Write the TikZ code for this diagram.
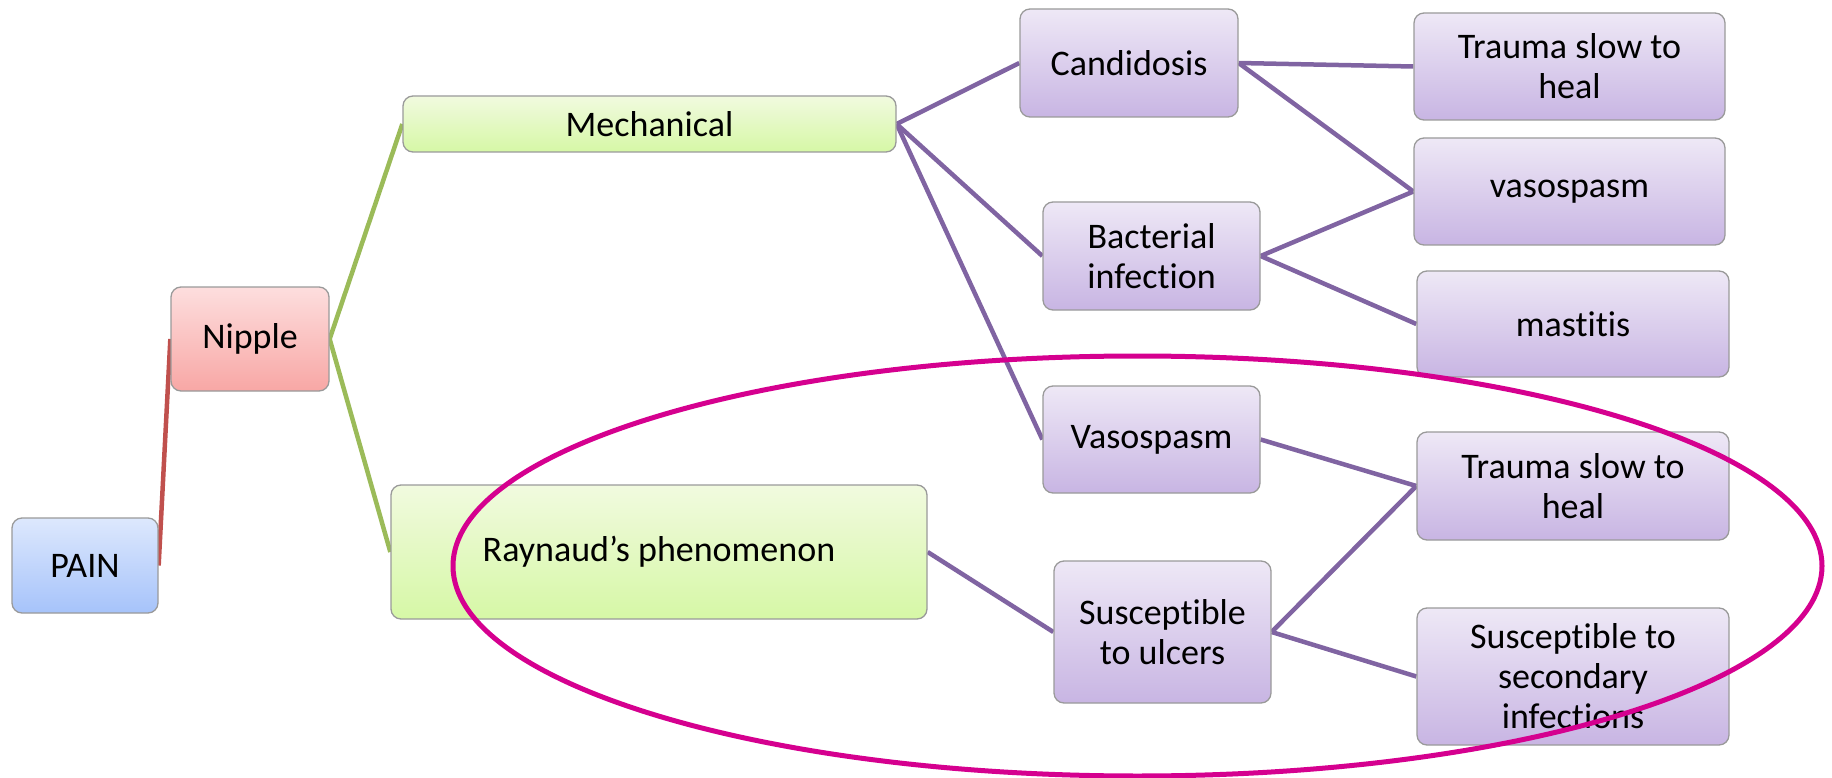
\documentclass[tikz,border=0pt]{standalone}
\usepackage{fontspec}
\setmainfont{Carlito}[Ligatures=NoCommon]
\usetikzlibrary{backgrounds,shapes.geometric}

\definecolor{blueTop}{HTML}{DDE8FD}
\definecolor{blueBot}{HTML}{A6C3FA}
\definecolor{redTop}{HTML}{FDDEDE}
\definecolor{redBot}{HTML}{F8A7A5}
\definecolor{greenTop}{HTML}{F1FADF}
\definecolor{greenBot}{HTML}{D6F8A6}
\definecolor{purpTop}{HTML}{EEE8F6}
\definecolor{purpBot}{HTML}{C8B5E3}
\definecolor{boxEdge}{HTML}{9A9A9A}
\definecolor{redLink}{HTML}{C0504D}
\definecolor{greenLink}{HTML}{9BBB59}
\definecolor{purpLink}{HTML}{8064A2}
\definecolor{ringPink}{HTML}{D5008F}

\tikzset{
  box/.style={draw=boxEdge, line width=1.3pt, rounded corners=10pt,
    inner sep=0pt, align=center,
    font=\fontsize{36}{40}\selectfont},
  bluebox/.style={box, top color=blueTop, bottom color=blueBot},
  redbox/.style={box, top color=redTop, bottom color=redBot},
  greenbox/.style={box, top color=greenTop, bottom color=greenBot},
  purpbox/.style={box, top color=purpTop, bottom color=purpBot},
  redlink/.style={draw=redLink, line width=4.5pt},
  greenlink/.style={draw=greenLink, line width=4.5pt},
  purplink/.style={draw=purpLink, line width=4.5pt},
}

\begin{document}
\begin{tikzpicture}[x=1pt,y=-1pt]
\useasboundingbox (0,0) rectangle (1832,778);

% root and first level
\node[bluebox, minimum width=146pt, minimum height=95pt] (pain) at (85,565.5) {PAIN};
\node[redbox, minimum width=158pt, minimum height=104pt] (nipple) at (250,339) {Nipple};

% second level
\node[greenbox, minimum width=493pt, minimum height=56pt] (mech) at (649.5,124) {Mechanical};
\node[greenbox, minimum width=536pt, minimum height=134pt] (rayn) at (659,552) {Raynaud’s phenomenon};

% causes
\node[purpbox, minimum width=218pt, minimum height=108pt] (cand) at (1129,63) {Candidosis};
\node[purpbox, minimum width=217pt, minimum height=108pt] (bact) at (1151.5,256) {Bacterial\\infection};
\node[purpbox, minimum width=217pt, minimum height=107pt] (vaso) at (1151.5,439.5) {Vasospasm};
\node[purpbox, minimum width=217pt, minimum height=142pt] (ulc) at (1162.5,632) {Susceptible\\to ulcers};

% consequences
\node[purpbox, minimum width=311pt, minimum height=107pt] (tr1) at (1569.5,66.5) {Trauma slow to\\heal};
\node[purpbox, minimum width=311pt, minimum height=107pt] (vs2) at (1569.5,191.5) {vasospasm};
\node[purpbox, minimum width=312pt, minimum height=106pt] (mast) at (1573,324) {mastitis};
\node[purpbox, minimum width=312pt, minimum height=108pt] (tr2) at (1573,486) {Trauma slow to\\heal};
\node[purpbox, minimum width=312pt, minimum height=137pt] (sec) at (1573,676.5) {Susceptible to\\secondary\\infections};

\begin{pgfonlayer}{background}
  \draw[redlink] (pain.east) -- (nipple.west);
  \draw[greenlink] (nipple.east) -- (mech.west);
  \draw[greenlink] (nipple.east) -- (rayn.west);
  \draw[purplink] (mech.east) -- (cand.west);
  \draw[purplink] (mech.east) -- (bact.west);
  \draw[purplink] (mech.east) -- (vaso.west);
  \draw[purplink] (cand.east) -- (tr1.west);
  \draw[purplink] (cand.east) -- (vs2.west);
  \draw[purplink] (bact.east) -- (vs2.west);
  \draw[purplink] (bact.east) -- (mast.west);
  \draw[purplink] (vaso.east) -- (tr2.west);
  \draw[purplink] (rayn.east) -- (ulc.west);
  \draw[purplink] (ulc.east) -- (tr2.west);
  \draw[purplink] (ulc.east) -- (sec.west);
\end{pgfonlayer}

% highlight ring around the Raynaud branch
\node[draw=ringPink, line width=5pt, ellipse, inner sep=0pt,
      minimum width=1369pt, minimum height=420pt] (ring) at (1137.5,566) {};
\end{tikzpicture}
\end{document}
